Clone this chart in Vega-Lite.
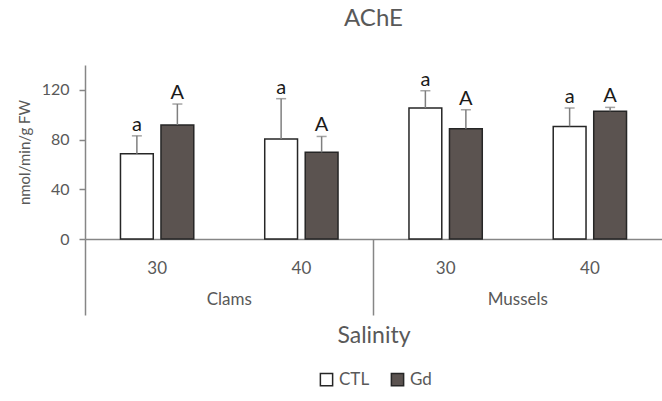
{
  "$schema": "https://vega.github.io/schema/vega-lite/v6.json",
  "autosize": "none",
  "padding": {"left": 85, "top": 65, "right": 0, "bottom": 162},
  "width": 577,
  "height": 174,
  "background": "white",
  "title": {"text": "AChE", "fontSize": 24, "fontWeight": "normal", "color": "#595959", "offset": 34},
  "config": {
    "font": "Lato",
    "view": {"stroke": null},
    "axisY": {"tickCount": 7, "labelOverlap": false, "labelFontSize": 16, "labelColor": "#595959", "labelPadding": 10,
      "tickSize": 6, "tickColor": "#868686", "tickWidth": 1.5, "domainColor": "#868686", "domainWidth": 1.5, "grid": false,
      "titleFontSize": 15, "titleFontWeight": "normal", "titleColor": "#595959", "titlePadding": 9},
    "axisLeft": {"labelOverlap": false, "labelFontSize": 16, "labelColor": "#595959", "labelPadding": 10}
  },
  "data": {"values": [
    {"species": "Clams", "salinity": "30", "group": "Clams 30", "treatment": "CTL", "mean": 68.6, "err_top": 83.0, "letter": "a"},
    {"species": "Clams", "salinity": "30", "group": "Clams 30", "treatment": "Gd", "mean": 91.7, "err_top": 108.6, "letter": "A"},
    {"species": "Clams", "salinity": "40", "group": "Clams 40", "treatment": "CTL", "mean": 80.4, "err_top": 112.9, "letter": "a"},
    {"species": "Clams", "salinity": "40", "group": "Clams 40", "treatment": "Gd", "mean": 69.7, "err_top": 82.5, "letter": "A"},
    {"species": "Mussels", "salinity": "30", "group": "Mussels 30", "treatment": "CTL", "mean": 105.4, "err_top": 119.3, "letter": "a"},
    {"species": "Mussels", "salinity": "30", "group": "Mussels 30", "treatment": "Gd", "mean": 88.7, "err_top": 104.0, "letter": "A"},
    {"species": "Mussels", "salinity": "40", "group": "Mussels 40", "treatment": "CTL", "mean": 90.6, "err_top": 105.4, "letter": "a"},
    {"species": "Mussels", "salinity": "40", "group": "Mussels 40", "treatment": "Gd", "mean": 102.7, "err_top": 105.9, "letter": "A"}
  ]},
  "layer": [
    {
      "encoding": {
        "x": {"field": "group", "type": "nominal", "sort": ["Clams 30", "Clams 40", "Mussels 30", "Mussels 40"],
          "scale": {"type": "band", "paddingInner": 0, "paddingOuter": 0},
          "axis": {"orient": "bottom", "title": "Salinity", "titleFontSize": 23, "titleFontWeight": "normal", "titleColor": "#595959", "titlePadding": 48,
            "labelExpr": "split(datum.value, ' ')[1]", "labelAngle": 0, "labelFontSize": 17, "labelColor": "#595959", "labelPadding": 21,
            "ticks": false, "domainColor": "#868686", "domainWidth": 1.5, "grid": false}},
        "xOffset": {"field": "treatment", "type": "nominal", "sort": ["CTL", "Gd"], "scale": {"paddingInner": 0.19, "paddingOuter": 0.876}}
      },
      "layer": [
        {
          "mark": {"type": "bar", "stroke": "#262626", "strokeWidth": 1.5},
          "encoding": {
            "y": {"field": "mean", "type": "quantitative", "scale": {"domain": [0, 140], "nice": false},
              "axis": {"title": "nmol/min/g FW", "values": [0, 20, 40, 60, 80, 100, 120, 140]}},
            "fill": {"field": "treatment", "type": "nominal", "scale": {"domain": ["CTL", "Gd"], "range": ["#ffffff", "#5b5350"]},
              "legend": {"orient": "none", "legendX": 233, "legendY": 306, "direction": "horizontal", "title": null, "symbolType": "square", "symbolSize": 150,
                "symbolStrokeColor": "#262626", "symbolStrokeWidth": 1.5, "labelFontSize": 17, "labelColor": "#595959", "columnPadding": 18}}
          }
        },
        {
          "mark": {"type": "rule", "color": "#7f7f7f", "strokeWidth": 1.5},
          "encoding": {"y": {"field": "mean", "type": "quantitative", "axis": {"title": "nmol/min/g FW", "values": [0, 20, 40, 60, 80, 100, 120, 140]}}, "y2": {"field": "err_top"}}
        },
        {
          "mark": {"type": "tick", "color": "#7f7f7f", "thickness": 1.5, "size": 10},
          "encoding": {"y": {"field": "err_top", "type": "quantitative", "axis": {"title": "nmol/min/g FW", "values": [0, 20, 40, 60, 80, 100, 120, 140]}}}
        },
        {
          "mark": {"type": "text", "fontSize": 20, "color": "#1a1a1a", "baseline": "alphabetic", "dy": -5},
          "encoding": {"y": {"field": "err_top", "type": "quantitative", "axis": {"title": "nmol/min/g FW", "values": [0, 20, 40, 60, 80, 100, 120, 140]}}, "text": {"field": "letter"}}
        }
      ]
    },
    {
      "mark": {"type": "bar", "opacity": 0},
      "encoding": {
        "x": {"field": "species", "type": "nominal", "scale": {"type": "band", "paddingInner": 0, "paddingOuter": 0},
          "axis": {"orient": "bottom", "title": null, "bandPosition": 0, "tickSize": 76, "tickColor": "#868686", "tickWidth": 1.5,
            "domain": false, "labelPadding": -24, "labelFontSize": 17, "labelColor": "#595959", "labelAngle": 0, "grid": false}}
      }
    }
  ],
  "resolve": {"scale": {"x": "independent"}}
}
